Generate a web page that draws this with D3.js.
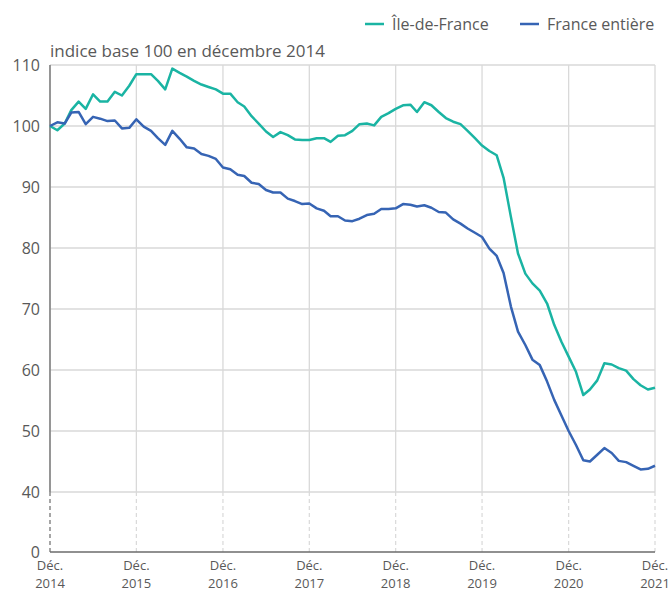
<!DOCTYPE html>
<html>
<head>
<meta charset="utf-8">
<script src="https://cdn.jsdelivr.net/npm/d3@7"></script>
<style>
  body { margin: 0; background: #fff; }
  text { font-family: "Open Sans", sans-serif; fill: #595959; }
</style>
</head>
<body>
<div id="chart"></div>
<script>
var width = 672, height = 593;

// monthly values, Dec 2014 .. Dec 2021
var idf = [100, 99.3, 100.4, 102.6, 104.0, 102.8, 105.2, 104.0, 104.0, 105.6, 105.0, 106.6,
  108.5, 108.5, 108.5, 107.4, 106.0, 109.4, 108.7, 108.1, 107.4, 106.8, 106.4, 106.0,
  105.3, 105.3, 103.9, 103.2, 101.6, 100.4, 99.1, 98.2, 99.0, 98.5, 97.8, 97.7,
  97.7, 98.0, 98.0, 97.4, 98.4, 98.5, 99.2, 100.3, 100.4, 100.1, 101.5, 102.1,
  102.8, 103.4, 103.5, 102.3, 103.9, 103.4, 102.3, 101.3, 100.7, 100.3, 99.2, 98.0,
  96.8, 95.9, 95.2, 91.5, 85.1, 79.1, 75.8, 74.2, 73.0, 70.9, 67.4, 64.6,
  62.2, 59.7, 55.9, 56.8, 58.3, 61.1, 60.9, 60.3, 59.9, 58.5, 57.5, 56.8, 57.1];

var france = [100, 100.6, 100.4, 102.2, 102.3, 100.3, 101.5, 101.2, 100.8, 100.9, 99.6, 99.7,
  101.1, 99.9, 99.2, 98.0, 96.9, 99.2, 97.9, 96.5, 96.3, 95.4, 95.1, 94.6,
  93.2, 92.9, 92.0, 91.8, 90.7, 90.5, 89.5, 89.1, 89.1, 88.1, 87.7, 87.2,
  87.3, 86.5, 86.1, 85.2, 85.2, 84.5, 84.4, 84.8, 85.4, 85.6, 86.4, 86.4,
  86.5, 87.2, 87.1, 86.8, 87.0, 86.6, 85.9, 85.8, 84.7, 84.0, 83.2, 82.5,
  81.8, 79.9, 78.7, 75.9, 70.4, 66.3, 64.1, 61.7, 60.8, 58.1, 55.1, 52.5,
  50.0, 47.7, 45.2, 45.0, 46.1, 47.2, 46.4, 45.1, 44.9, 44.3, 43.7, 43.8, 44.3];

var seriesNames = ["Île-de-France", "France entière"];
var colors = ["#1ab4a3", "#3664b4"];
var yTicks = [0, 40, 50, 60, 70, 80, 90, 100, 110];
var xYears = [2014, 2015, 2016, 2017, 2018, 2019, 2020, 2021];

var months = d3.timeMonth.range(new Date(2014, 11, 1), new Date(2022, 0, 1));

var svg = d3.select("#chart")
  .append("svg")
    .attr("width", width)
    .attr("height", height);

var x = d3.scaleTime()
    .domain([new Date(2014, 11, 1), new Date(2021, 11, 1)])
    .range([50, 655]);

// broken axis: 0-40 squeezed
var y = d3.scaleLinear()
    .domain([0, 40, 110])
    .range([552, 492, 65]);

var xDates = xYears.map(function(yr) { return new Date(yr, 11, 1); });

// vertical grid: solid above the break, dashed below
svg.append("g").selectAll("line.vs")
    .data(xDates)
  .enter().append("line")
    .attr("x1", function(d) { return x(d); })
    .attr("x2", function(d) { return x(d); })
    .attr("y1", y(110))
    .attr("y2", y(40))
    .attr("stroke", "#d9d9d9")
    .attr("stroke-width", 1.3);

svg.append("g").selectAll("line.vd")
    .data(xDates.slice(1))
  .enter().append("line")
    .attr("x1", function(d) { return x(d); })
    .attr("x2", function(d) { return x(d); })
    .attr("y1", y(40))
    .attr("y2", y(0))
    .attr("stroke", "#d9d9d9")
    .attr("stroke-width", 1.2)
    .attr("stroke-dasharray", "4,3");

// horizontal grid
svg.append("g").selectAll("line")
    .data(yTicks.filter(function(d) { return d > 0; }))
  .enter().append("line")
    .attr("x1", 50)
    .attr("x2", 655)
    .attr("y1", function(d) { return y(d); })
    .attr("y2", function(d) { return y(d); })
    .attr("stroke", "#d9d9d9")
    .attr("stroke-width", 1.3);

// axes lines
svg.append("line")
    .attr("x1", 50).attr("x2", 50)
    .attr("y1", y(110)).attr("y2", y(40))
    .attr("stroke", "#6b6b6b").attr("stroke-width", 1.3);
svg.append("line")
    .attr("x1", 50).attr("x2", 50)
    .attr("y1", y(40)).attr("y2", y(0))
    .attr("stroke", "#6b6b6b").attr("stroke-width", 1.2)
    .attr("stroke-dasharray", "4,3");
svg.append("line")
    .attr("x1", 50).attr("x2", 655)
    .attr("y1", y(0)).attr("y2", y(0))
    .attr("stroke", "#6b6b6b").attr("stroke-width", 1.5);

// y labels
svg.append("g").selectAll("text")
    .data(yTicks)
  .enter().append("text")
    .attr("x", 40)
    .attr("y", function(d) { return y(d); })
    .attr("dy", "0.35em")
    .attr("text-anchor", "end")
    .style("font-size", "16px")
    .text(function(d) { return d; });

// x labels, two lines each
var xg = svg.append("g").selectAll("g")
    .data(xDates)
  .enter().append("g")
    .attr("transform", function(d) { return "translate(" + x(d) + ",0)"; })
    .attr("text-anchor", "middle")
    .style("font-size", "13px");
xg.append("text")
    .attr("y", 570)
    .text("Déc.");
xg.append("text")
    .attr("y", 588)
    .text(function(d) { return d.getFullYear(); });

svg.append("text")
    .attr("x", 50)
    .attr("y", 57)
    .style("font-size", "17px")
    .text("indice base 100 en décembre 2014");

// lines
var line = d3.line()
    .x(function(d, i) { return x(months[i]); })
    .y(function(d) { return y(d); });

[idf, france].forEach(function(s, i) {
  svg.append("path")
      .datum(s)
      .attr("fill", "none")
      .attr("stroke", colors[i])
      .attr("stroke-width", 2.5)
      .attr("stroke-linejoin", "round")
      .attr("d", line);
});

// legend
var legX = [365, 520];
var leg = svg.append("g").selectAll("g")
    .data(seriesNames)
  .enter().append("g")
    .attr("transform", function(d, i) { return "translate(" + legX[i] + ",24)"; });
leg.append("line")
    .attr("x1", 0).attr("x2", 19)
    .attr("stroke", function(d, i) { return colors[i]; })
    .attr("stroke-width", 2.5);
leg.append("text")
    .attr("x", 27)
    .attr("dy", "0.35em")
    .style("font-size", "16px")
    .text(function(d) { return d; });
</script>
</body>
</html>
